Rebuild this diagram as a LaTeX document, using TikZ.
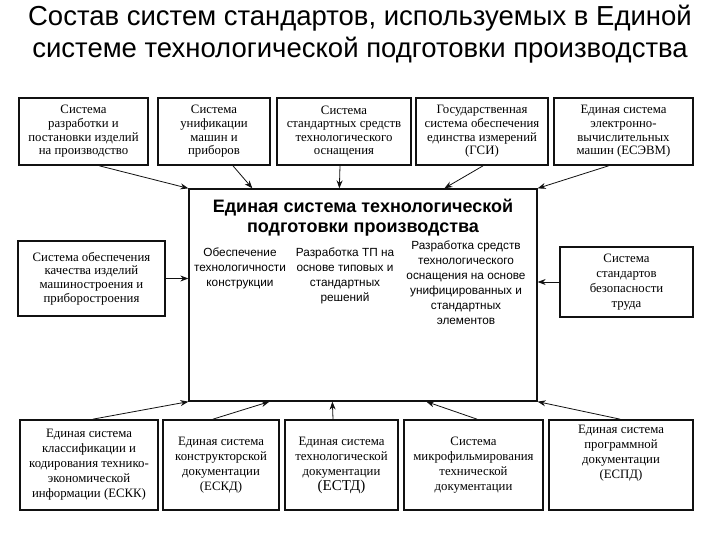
\documentclass[tikz,border=0pt]{standalone}
\usepackage{fontspec}
\setmainfont{Liberation Serif}
\setsansfont{Liberation Sans}
\usetikzlibrary{positioning, arrows.meta, calc}
\definecolor{boxInk}{HTML}{111111}

\begin{document}
\begin{tikzpicture}[x=1pt, y=-1pt, >=Stealth,
    sysbox/.style={draw=boxInk, line width=1.7pt, fill=white, align=center, inner sep=1pt,
      font=\fontsize{12.8}{13.6}\selectfont},
    lowbox/.style={sysbox, minimum height=90, font=\fontsize{12.8}{15}\selectfont},
    coltext/.style={align=center, anchor=north, font=\sffamily\fontsize{11.8}{15}\selectfont},
    link/.style={line width=0.8pt, boxInk, -{Stealth[length=8pt, width=6pt]}}]
  \useasboundingbox[fill=white] (0,0) rectangle (720,540);
  % title
  \node[font=\sffamily\fontsize{27.5}{32}\selectfont, align=center] (title) at (360,34)
    {Состав систем стандартов, используемых в Единой\\системе технологической подготовки производства};
  % central system
  \node[draw=boxInk, line width=1.3pt, minimum width=348, minimum height=212] (ets) at (363,295) {};
  \node[font=\sffamily\bfseries\fontsize{18}{20}\selectfont, align=center] (etsname) at (363,218)
    {Единая система технологической\\подготовки производства};
  \node[coltext] (colA) at (240,244) {Обеспечение\\технологичности\\конструкции};
  \node[coltext] (colB) at (345,244) {Разработка ТП на\\основе типовых и\\стандартных\\решений};
  \node[coltext] (colC) at (466,237) {Разработка средств\\технологического\\оснащения на основе\\унифицированных и\\стандартных\\элементов};
  % top row
  \node[sysbox, minimum width=129, minimum height=67] (top1) at (83.5,131.5) {Система\\разработки и\\постановки изделий\\на производство};
  \node[sysbox, minimum width=112, minimum height=67] (top2) at (214,131.5) {Система\\унификации\\машин и\\приборов};
  \node[sysbox, minimum width=134, minimum height=67] (top3) at (344,131.5) {Система\\стандартных средств\\технологического\\оснащения};
  \node[sysbox, minimum width=132, minimum height=67] (top4) at (482,131.5) {Государственная\\система обеспечения\\единства измерений\\(ГСИ)};
  \node[sysbox, minimum width=139, minimum height=67] (top5) at (623.5,131.5) {Единая система\\электронно-\\вычислительных\\машин (ЕСЭВМ)};
  % sides
  \node[sysbox, minimum width=147, minimum height=75] (left) at (91.5,278.5) {Система обеспечения\\качества изделий\\машиностроения и\\приборостроения};
  \node[sysbox, minimum width=133, minimum height=70, font=\fontsize{12.8}{15}\selectfont] (right) at (626.5,282) {Система\\стандартов\\безопасности\\труда};
  % bottom row
  \node[lowbox, minimum width=138] (bot1) at (89,465) {Единая система\\классификации и\\кодирования технико-\\экономической\\информации (ЕСКК)};
  \node[lowbox, minimum width=116] (bot2) at (221,465) {Единая система\\конструкторской\\документации\\(ЕСКД)};
  \node[lowbox, minimum width=113] (bot3) at (341.5,465) {Единая система\\технологической\\документации\\{\fontsize{15}{16}\selectfont(ЕСТД)}};
  \node[lowbox, minimum width=139] (bot4) at (473.5,465) {Система\\микрофильмирования\\технической\\документации};
  \node[lowbox, minimum width=144, text depth=26pt] (bot5) at (621,465) {Единая система\\программной\\документации\\(ЕСПД)};
  % connectors into the central system
  \draw[link] ($(top1.south)+(16,0)$) -- (ets.north west);
  \draw[link] ($(top2.south)+(19,0)$) -- ($(ets.north west)+(64,0)$);
  \draw[link] ($(top3.south)+(-4,0)$) -- ($(ets.north west)+(151,0)$);
  \draw[link] ($(top4.south)+(1,0)$) -- ($(ets.north west)+(256,0)$);
  \draw[link] ($(top5.south)+(-15,0)$) -- (ets.north east);
  \draw[link] (left.east) -- (left.east -| ets.west);
  \draw[link] (right.west) -- (right.west -| ets.east);
  \draw[link] ($(bot1.north)+(4,0)$) -- (ets.south west);
  \draw[link] ($(bot2.north)+(-8,0)$) -- ($(ets.south west)+(81,0)$);
  \draw[link] ($(bot3.north)+(-8.5,0)$) -- ($(ets.south west)+(144,0)$);
  \draw[link] ($(bot4.north)+(3.5,0)$) -- ($(ets.south west)+(238,0)$);
  \draw[link] ($(bot5.north)+(-1,0)$) -- (ets.south east);
\end{tikzpicture}
\end{document}
